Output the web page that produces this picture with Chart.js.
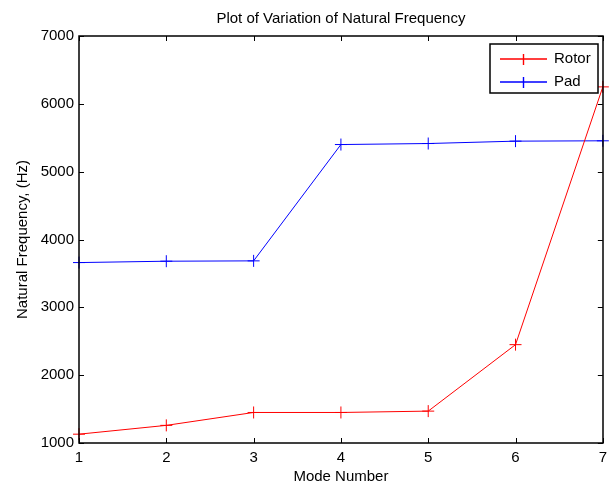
<!DOCTYPE html>
<html>
<head>
<meta charset="utf-8">
<script src="https://cdn.jsdelivr.net/npm/chart.js@4.4.1/dist/chart.umd.min.js"></script>
<style>
  html, body { margin: 0; padding: 0; background: #fff; }
  #wrap { width: 613px; height: 486px; }
</style>
</head>
<body>
<div id="wrap"><canvas id="canvas" width="613" height="486"></canvas></div>
<script>
var modes = [1, 2, 3, 4, 5, 6, 7];
var rotorFreq = [1130, 1260, 1450, 1450, 1470, 2450, 6250];
var padFreq = [3660, 3680, 3685, 5400, 5415, 5450, 5455];
var yTicks = [1000, 2000, 3000, 4000, 5000, 6000, 7000];

var fontFamily = "'Liberation Sans', Arial, sans-serif";

function points(ys) {
  return modes.map(function (m, i) {
    return { x: m, y: ys[i] };
  });
}

// matlab style box, inward ticks and legend inside the axes
var matlabAxes = {
  id: "matlabAxes",
  afterDraw: function (chart) {
    var ctx = chart.ctx;
    var a = chart.chartArea;
    var xs = chart.scales.x;
    var ys = chart.scales.y;
    ctx.save();
    ctx.strokeStyle = "#000";
    ctx.lineWidth = 1;
    ctx.beginPath();
    modes.forEach(function (m) {
      var px = Math.round(xs.getPixelForValue(m)) + 0.5;
      ctx.moveTo(px, a.bottom);
      ctx.lineTo(px, a.bottom - 5);
      ctx.moveTo(px, a.top);
      ctx.lineTo(px, a.top + 5);
    });
    yTicks.forEach(function (v) {
      var py = Math.round(ys.getPixelForValue(v)) + 0.5;
      ctx.moveTo(a.left, py);
      ctx.lineTo(a.left + 5, py);
      ctx.moveTo(a.right, py);
      ctx.lineTo(a.right - 5, py);
    });
    ctx.stroke();
    ctx.lineWidth = 1.5;
    ctx.strokeRect(Math.round(a.left), Math.round(a.top),
      Math.round(a.right - a.left), Math.round(a.bottom - a.top));

    // legend
    var bx = 490, by = 44, bw = 108, bh = 49;
    ctx.fillStyle = "#fff";
    ctx.fillRect(bx, by, bw, bh);
    ctx.lineWidth = 1.5;
    ctx.strokeStyle = "#000";
    ctx.strokeRect(bx, by, bw, bh);
    ctx.font = "15px " + fontFamily;
    ctx.textBaseline = "middle";
    ctx.textAlign = "left";
    chart.data.datasets.forEach(function (ds, i) {
      var ly = 59 + i * 23;
      ctx.lineWidth = 1.4;
      ctx.strokeStyle = ds.borderColor;
      ctx.beginPath();
      ctx.moveTo(500, ly);
      ctx.lineTo(547, ly);
      ctx.moveTo(523.5, ly - 5);
      ctx.lineTo(523.5, ly + 6);
      ctx.stroke();
      ctx.fillStyle = "#000";
      ctx.fillText(ds.label, 554, ly);
    });
    ctx.restore();
  }
};

var ctx = document.getElementById("canvas");

var chart = new Chart(ctx, {
  type: "line",
  data: {
    datasets: [
      {
        label: "Rotor",
        data: points(rotorFreq),
        borderColor: "#ff0000",
        backgroundColor: "#ff0000",
        borderWidth: 1,
        pointStyle: "cross",
        pointRadius: 6,
        pointBorderWidth: 1,
        fill: false,
        tension: 0,
        clip: false
      },
      {
        label: "Pad",
        data: points(padFreq),
        borderColor: "#0000ff",
        backgroundColor: "#0000ff",
        borderWidth: 1,
        pointStyle: "cross",
        pointRadius: 6,
        pointBorderWidth: 1,
        fill: false,
        tension: 0,
        clip: false
      }
    ]
  },
  options: {
    responsive: false,
    animation: false,
    devicePixelRatio: 1,
    layout: { padding: { left: 0, right: 4, top: 0, bottom: 0 } },
    plugins: {
      legend: { display: false },
      tooltip: { enabled: false },
      title: {
        display: true,
        fullSize: false,
        text: "Plot of Variation of Natural Frequency",
        color: "#000",
        font: { family: fontFamily, size: 15, weight: "normal" },
        padding: { top: 10, bottom: 8 }
      }
    },
    scales: {
      x: {
        type: "linear",
        min: 1,
        max: 7,
        afterFit: function (scale) { scale.height = 43; },
        afterBuildTicks: function (scale) {
          scale.ticks = modes.map(function (m) { return { value: m }; });
        },
        grid: { display: false, drawTicks: false },
        border: { display: false },
        ticks: {
          color: "#000",
          padding: 6,
          maxRotation: 0,
          font: { family: fontFamily, size: 15 },
          callback: function (v) { return String(v); }
        },
        title: {
          display: true,
          text: "Mode Number",
          color: "#000",
          font: { family: fontFamily, size: 15 },
          padding: { top: 0, bottom: 0 }
        }
      },
      y: {
        min: 1000,
        max: 7000,
        afterFit: function (scale) { scale.width = 79; },
        afterBuildTicks: function (scale) {
          scale.ticks = yTicks.map(function (v) { return { value: v }; });
        },
        grid: { display: false, drawTicks: false },
        border: { display: false },
        ticks: {
          color: "#000",
          padding: 5,
          font: { family: fontFamily, size: 15 },
          callback: function (v) { return String(v); }
        },
        title: {
          display: true,
          text: "Natural Frequency, (Hz)",
          color: "#000",
          font: { family: fontFamily, size: 15 },
          padding: { top: 14, bottom: 0 }
        }
      }
    }
  },
  plugins: [matlabAxes]
});
</script>
</body>
</html>
